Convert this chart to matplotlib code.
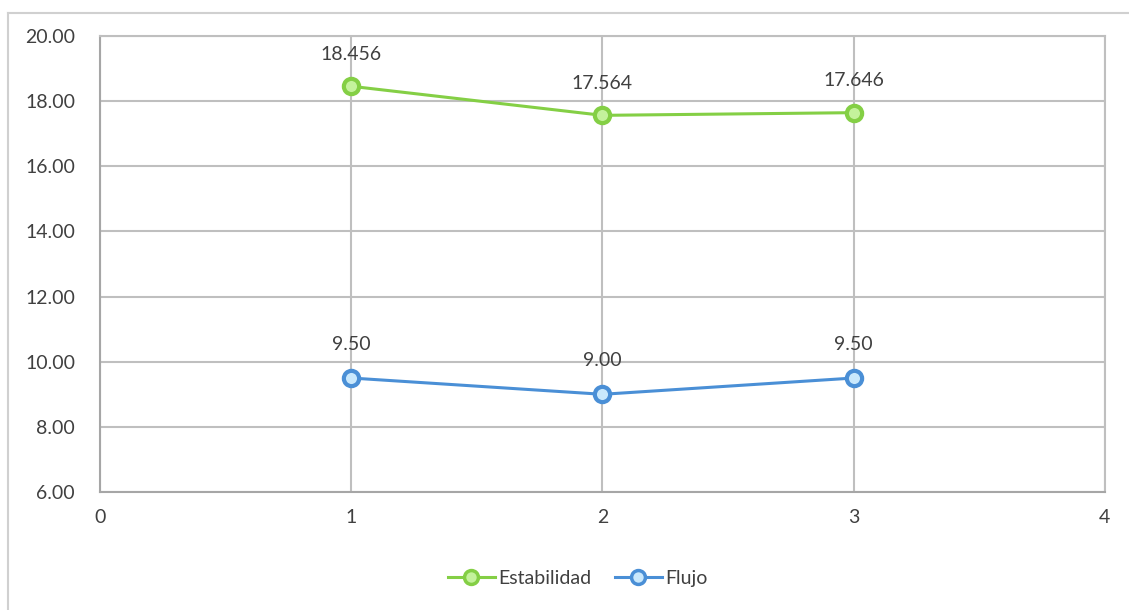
import matplotlib
matplotlib.use('Agg')
import matplotlib.pyplot as plt
from matplotlib.lines import Line2D

plt.rcParams['font.family'] = ['Lato', 'DejaVu Sans']

# series data
x = [1, 2, 3]
estabilidad = [18.456, 17.564, 17.646]
flujo = [9.50, 9.00, 9.50]
est_labels = ['18.456', '17.564', '17.646']
flu_labels = ['9.50', '9.00', '9.50']

green = '#84cf45'
blue = '#4a8fd6'
txt = '#404040'

fig = plt.figure(figsize=(11.29, 6.10), dpi=100)
ax = fig.add_axes([0.0886, 0.1934, 0.89, 0.7476])

ax.plot(x, estabilidad, color=green, lw=2.2, marker='o', ms=11,
        mfc='#c4f29c', mec=green, mew=3, label='Estabilidad', zorder=3)
ax.plot(x, flujo, color=blue, lw=2.2, marker='o', ms=11,
        mfc='#c9e8fc', mec=blue, mew=3, label='Flujo', zorder=3)

for xi, yi, s in zip(x, estabilidad, est_labels):
    ax.annotate(s, (xi, yi), xytext=(0, 17), textcoords='offset points',
                ha='center', va='bottom', fontsize=14, color=txt)
for xi, yi, s in zip(x, flujo, flu_labels):
    ax.annotate(s, (xi, yi), xytext=(0, 18), textcoords='offset points',
                ha='center', va='bottom', fontsize=14, color=txt)

ax.set_xlim(0, 4)
ax.set_ylim(6, 20)
ax.set_xticks([0, 1, 2, 3, 4])
ax.set_yticks([6, 8, 10, 12, 14, 16, 18, 20])
ax.set_yticklabels(['%.2f' % v for v in ax.get_yticks()])
ax.tick_params(length=0, labelsize=14, labelcolor=txt)
ax.tick_params(axis='y', pad=18)
ax.tick_params(axis='x', pad=12)
ax.grid(True, color='#bfbfbf', lw=1.5)
for sp in ax.spines.values():
    sp.set_color('#bfbfbf')
    sp.set_linewidth(1.5)
ax.spines['left'].set_color('#a6a6a6')
ax.spines['bottom'].set_color('#a6a6a6')

handles = [Line2D([], [], color=green, lw=2.2, marker='o', ms=10, mfc='#c4f29c', mec=green, mew=2.5),
           Line2D([], [], color=blue, lw=2.2, marker='o', ms=10, mfc='#c9e8fc', mec=blue, mew=2.5)]
fig.legend(handles, ['Estabilidad', 'Flujo'], loc='center', bbox_to_anchor=(0.512, 0.052),
           ncol=2, frameon=False, fontsize=14, labelcolor=txt, handlelength=2.4,
           columnspacing=1.2, handletextpad=0.2)

# chart area border
fig.add_artist(Line2D([0.0071, 1], [0.9787, 0.9787], color='#d0d0d0', lw=1.5))
fig.add_artist(Line2D([0.0071, 0.0071], [0, 0.9787], color='#d0d0d0', lw=1.5))

fig.savefig('out.png', dpi=100)
